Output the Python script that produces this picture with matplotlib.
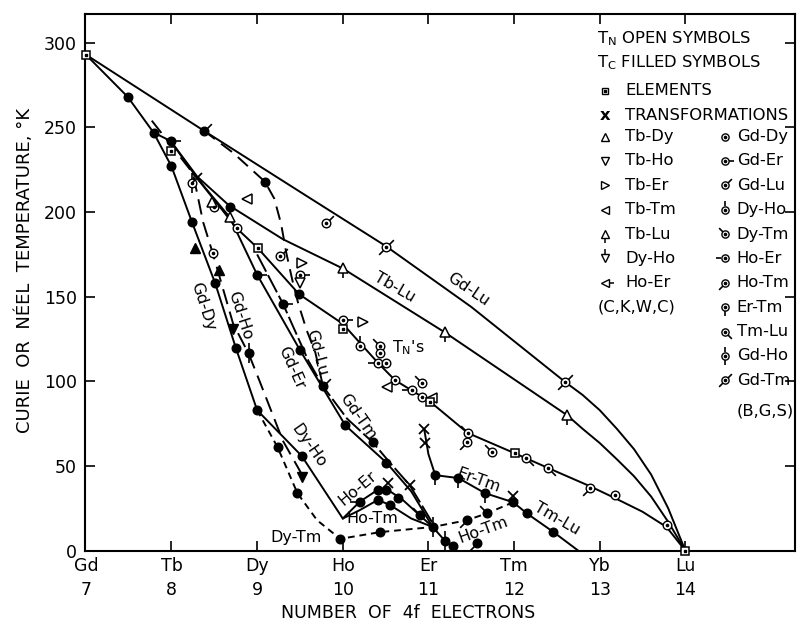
import matplotlib
matplotlib.use('Agg')
import numpy as np
import matplotlib.pyplot as plt
from matplotlib.path import Path

plt.rcParams['font.family'] = ['DejaVu Sans']

ELEMENTS = ['Gd', 'Tb', 'Dy', 'Ho', 'Er', 'Tm', 'Yb', 'Lu']
N_4F = [7, 8, 9, 10, 11, 12, 13, 14]

# ---- curves (number of 4f electrons, temperature K) ----
gd_lu_x = [7.0, 8.38, 9.5, 10.5, 11.5, 12.6, 12.8, 13.0, 13.2, 13.4, 13.6, 13.8, 14.0]
gd_lu_y = [293, 248, 212, 180, 144, 99.5, 92, 83, 72, 60, 45, 25, 0]

tb_lu_x = [7.99, 8.3, 8.67, 9.3, 10.0, 11.19, 12.62, 12.8, 13.0, 13.2, 13.4, 13.6, 13.8, 14.0]
tb_lu_y = [242, 221, 204, 184, 166.7, 129, 80, 72, 63.6, 54, 44, 32, 17, 0]

tn_x = [8.3, 8.76, 9.01, 9.49, 10.0, 10.41, 10.61, 11.02, 11.46, 12.01, 12.4, 12.89, 13.18, 13.5, 13.78, 14.0]
tn_y = [220, 190.5, 178.6, 151.5, 134, 111, 100.7, 88, 69.5, 57.5, 48.8, 38, 31, 23, 14, 0]

gd_stem_x = [7.0, 7.49, 7.79, 7.99, 8.3]
gd_stem_y = [293, 268, 247, 242, 220]

gd_dy_x = [7.79, 8.0, 8.24, 8.51, 8.75, 9.0]
gd_dy_y = [247, 227, 194, 158, 120, 83]

dy_ho_x = [9.0, 9.52, 10.0]
dy_ho_y = [83, 56, 19]

gd_ho_x = [7.77, 8.25, 8.37, 8.48, 8.72, 8.9, 9.03, 9.3, 9.54]
gd_ho_y = [254, 223, 194, 176, 134, 116.5, 100, 65, 43.5]

gd_lu_tc_x = [8.38, 8.72, 9.09, 9.2, 9.28, 9.34, 9.41, 9.48, 9.58, 9.68, 9.77]
gd_lu_tc_y = [248, 235, 218, 208, 193, 176, 160, 146, 130, 117, 97]

gd_er_x = [8.3, 8.68, 9.0, 9.5, 10.03, 10.51, 10.8, 11.05, 11.19, 11.29]
gd_er_y = [220, 197, 163, 118.5, 74, 52, 35, 14, 6, 3]

gd_tm_x = [9.0, 9.3, 9.6, 9.77, 10.05, 10.35, 10.55, 10.78, 11.1]
gd_tm_y = [175, 146, 112, 97, 78, 64, 52, 38.8, 12]

er_tm_x = [10.95, 11.0, 11.08, 11.35, 11.66, 11.99]
er_tm_y = [72, 57, 44.6, 42.9, 34, 28.6]

tm_lu_x = [11.99, 12.15, 12.46, 12.75]
tm_lu_y = [28.6, 22, 11, 0]

ho_er_x = [10.0, 10.2, 10.41, 10.51, 10.7, 11.05]
ho_er_y = [19, 29, 36, 36.5, 30, 14]

ho_tm_x = [10.0, 10.2, 10.41, 10.55, 10.8, 11.05]
ho_tm_y = [19, 24, 30, 27, 19, 14]

dy_tm_x = [9.0, 9.24, 9.47, 9.7, 9.97, 10.44, 11.05, 11.45, 11.68, 11.99]
dy_tm_y = [83, 61, 34, 18, 7, 11, 14, 18, 22, 28.6]

# ---- symbols ----
tc_x = [7.49, 7.79, 7.99, 8.0, 8.24, 8.51, 8.75, 9.0, 9.52, 8.38, 9.09, 8.68,
        9.0, 9.49, 9.5, 10.03, 10.51, 9.77, 10.35, 9.3, 8.9, 9.24, 9.47, 9.97,
        10.44, 10.2, 10.41, 10.51, 10.41, 10.55, 10.65, 11.05, 11.19, 11.29,
        11.08, 11.35, 11.66, 11.99, 12.15, 12.46, 11.45, 11.68, 11.57, 10.9]
tc_y = [268, 247, 242, 227, 194, 158, 120, 83, 56, 248, 218, 203,
        163, 151.5, 118.5, 74, 52, 97, 64, 146, 116.5, 61, 34, 7,
        11, 29, 36, 36, 30, 27, 31, 14, 6, 3,
        44.6, 42.9, 34, 28.6, 22, 11, 18, 22, 4.5, 21]
tc_sys = ['Gd-Dy', 'Gd-Dy', 'Gd-Er', 'Gd-Dy', 'Gd-Dy', 'Gd-Dy', 'Gd-Dy', 'Gd-Dy', 'Gd-Dy', 'Gd-Lu', 'Gd-Dy', 'Gd-Dy',
          'Gd-Er', 'Gd-Dy', 'Gd-Dy', 'Gd-Dy', 'Gd-Dy', 'Gd-Lu', 'Gd-Dy', 'Gd-Er', 'Gd-Ho', 'Gd-Dy', 'Gd-Dy', 'Gd-Dy',
          'Gd-Dy', 'Ho-Er', 'Gd-Dy', 'Gd-Dy', 'Gd-Dy', 'Gd-Dy', 'Gd-Dy', 'Gd-Ho', 'Gd-Ho', 'Gd-Dy',
          'Er-Tm', 'Er-Tm', 'Er-Tm', 'Gd-Dy', 'Gd-Dy', 'Gd-Dy', 'Ho-Tm', 'Dy-Tm', 'Ho-Tm', 'Dy-Tm']

tc_tri_x = [8.27, 8.55]
tc_tri_y = [179, 166]
tc_dtri_x = [8.72, 9.52]
tc_dtri_y = [131, 43.5]

tn_pt_x = [8.24, 8.5, 8.76, 8.48, 9.27, 9.5, 9.8, 10.5, 12.6, 10.0, 10.2, 10.43,
           10.43, 10.41, 10.51, 10.61, 10.81, 10.93, 10.93, 11.46, 11.45, 11.74,
           12.14, 12.4, 12.89, 13.18, 13.79]
tn_pt_y = [217, 203, 190.5, 176, 174, 163, 193.6, 179.6, 99.5, 136, 121, 121,
           116.5, 111, 110.7, 100.7, 94.8, 99, 90.8, 69.5, 64, 58,
           54.7, 48.8, 37, 33, 15]
tn_sys = ['Gd-Ho', 'Gd-Dy', 'Gd-Dy', 'Gd-Dy', 'Gd-Lu', 'Gd-Er', 'Gd-Lu', 'Gd-Tm', 'Gd-Tm', 'Gd-Er', 'Dy-Ho', 'Dy-Tm',
          'Gd-Dy', 'Ho-Er', 'Gd-Dy', 'Ho-Tm', 'Ho-Er', 'Dy-Tm', 'Gd-Dy', 'Dy-Tm', 'Ho-Tm', 'Dy-Tm',
          'Tm-Lu', 'Tm-Lu', 'Ho-Tm', 'Gd-Dy', 'Gd-Dy']

up_tri_x = [8.47, 8.68]
up_tri_y = [206, 197]
tb_lu_pt_x = [10.0, 11.19, 12.62]
tb_lu_pt_y = [166.7, 129, 80]
dn_tri_x = [9.5]
dn_tri_y = [158]
rt_tri_x = [9.52, 10.24]
rt_tri_y = [170, 135]
lt_tri_x = [8.88, 11.04, 10.52]
lt_tri_y = [207.6, 90, 96.7]

elem_x = [7.0, 8.0, 9.01, 10.0, 11.02, 12.01, 14.0]
elem_y = [293, 236, 178.6, 131, 88, 57.5, 0]

trans_x = [8.3, 10.78, 10.96, 10.95, 11.99, 10.53]
trans_y = [220, 38.8, 63.5, 72, 32.6, 40]

# tail directions (deg) that tag each alloy system on the circle symbols
TAILS = {'Gd-Dy': (), 'Gd-Er': (0,), 'Gd-Lu': (45,), 'Dy-Ho': (90,), 'Dy-Tm': (135,),
         'Ho-Er': (180,), 'Ho-Tm': (225,), 'Er-Tm': (270,), 'Tm-Lu': (315,),
         'Gd-Ho': (90, 270), 'Gd-Tm': (45, 225)}


def tail_path(angle, r0=0.4):
    a = np.deg2rad(angle)
    c, s = np.cos(a), np.sin(a)
    # two bare MOVETOs pin the marker scale so every tail has the same length
    verts = [(-1, -1), (1, 1), (r0 * c, r0 * s), (c, s)]
    codes = [Path.MOVETO, Path.MOVETO, Path.MOVETO, Path.LINETO]
    return Path(verts, codes)


def draw_tails(ax, xs, ys, systems, ms=15):
    for x, y, sysname in zip(xs, ys, systems):
        for ang in TAILS[sysname]:
            ax.plot([x], [y], marker=tail_path(ang), ms=ms, mew=1.2, color='black',
                    ls='none', zorder=4)


def dotted_circle(ax, xs, ys, ms=6.2):
    ax.plot(xs, ys, 'o', ms=ms, mfc='white', mec='black', mew=1.0, ls='none', zorder=5)
    ax.plot(xs, ys, 'o', ms=1.6, color='black', ls='none', zorder=6)


fig = plt.figure(figsize=(8.04, 6.28), dpi=100)
ax = fig.add_axes([0.1057, 0.1231, 0.8831, 0.8546])

lw = 1.4
solid = dict(color='black', lw=lw, solid_capstyle='round', solid_joinstyle='round')
for xs, ys in [(gd_lu_x, gd_lu_y), (tb_lu_x, tb_lu_y), (tn_x, tn_y),
               (gd_stem_x, gd_stem_y), (gd_dy_x, gd_dy_y), (dy_ho_x, dy_ho_y),
               (gd_er_x, gd_er_y), (er_tm_x, er_tm_y), (tm_lu_x, tm_lu_y),
               (ho_er_x, ho_er_y), (ho_tm_x, ho_tm_y)]:
    ax.plot(xs, ys, **solid)
ax.plot(gd_tm_x, gd_tm_y, color='black', lw=lw, dashes=(10, 2))
ax.plot(gd_ho_x, gd_ho_y, color='black', lw=lw, dashes=(8, 4))
ax.plot(gd_lu_tc_x, gd_lu_tc_y, color='black', lw=lw, dashes=(7, 4))
ax.plot(dy_tm_x, dy_tm_y, color='black', lw=lw, dashes=(3.5, 2.5))

# filled symbols (Curie points)
draw_tails(ax, tc_x, tc_y, tc_sys)
ax.plot(tc_x, tc_y, 'o', ms=6.2, color='black', ls='none', zorder=5)
ax.plot(tc_tri_x, tc_tri_y, '^', ms=7, color='black', ls='none', zorder=5)
ax.plot(tc_dtri_x, tc_dtri_y, 'v', ms=7, color='black', ls='none', zorder=5)

# open symbols (Neel points)
draw_tails(ax, tn_pt_x, tn_pt_y, tn_sys)
dotted_circle(ax, tn_pt_x, tn_pt_y)
ax.plot(tb_lu_pt_x, tb_lu_pt_y, marker=tail_path(270), ms=15, mew=1.2, color='black', ls='none', zorder=4)
for mk, xs, ys in [('^', up_tri_x, up_tri_y), ('^', tb_lu_pt_x, tb_lu_pt_y),
                   ('v', dn_tri_x, dn_tri_y), ('>', rt_tri_x, rt_tri_y),
                   ('<', lt_tri_x, lt_tri_y)]:
    ax.plot(xs, ys, mk, ms=7, mfc='white', mec='black', mew=1.1, ls='none', zorder=5)

ax.plot(elem_x, elem_y, 's', ms=6, mfc='white', mec='black', mew=1.1, ls='none', zorder=7, clip_on=False)
ax.plot(elem_x, elem_y, 's', ms=1.8, color='black', ls='none', zorder=8, clip_on=False)
ax.plot(trans_x, trans_y, 'x', ms=7, mew=1.3, color='black', ls='none', zorder=6)

# curve labels
lab = dict(fontsize=11.5, ha='center', va='center')
ax.text(11.46, 154, 'Gd-Lu', rotation=-34, **lab)
ax.text(10.61, 155.5, 'Tb-Lu', rotation=-30, **lab)
ax.text(10.76, 120, "T$_\\mathregular{N}$'s", **lab)
ax.text(8.37, 144, 'Gd-Dy', rotation=-72, **lab)
ax.text(8.8, 139, 'Gd-Ho', rotation=-72, **lab)
ax.text(9.4, 108, 'Gd-Er', rotation=-66, **lab)
ax.text(9.7, 117, 'Gd-Lu', rotation=-75, **lab)
ax.text(10.17, 79, 'Gd-Tm', rotation=-55, **lab)
ax.text(9.6, 62, 'Dy-Ho', rotation=-55, **lab)
ax.text(10.17, 37, 'Ho-Er', rotation=40, **lab)
ax.text(10.34, 19, 'Ho-Tm', **lab)
ax.text(9.46, 7.5, 'Dy-Tm', **lab)
ax.text(11.58, 41.5, 'Er-Tm', rotation=-20, **lab)
ax.text(12.5, 19, 'Tm-Lu', rotation=-30, **lab)
ax.text(11.64, 12, 'Ho-Tm', rotation=20, **lab)

# key
fs = 11.8
ax.text(12.97, 302.2, 'T$_\\mathregular{N}$ OPEN SYMBOLS', fontsize=fs, va='center')
ax.text(12.97, 288, 'T$_\\mathregular{C}$ FILLED SYMBOLS', fontsize=fs, va='center')
ax.plot([13.06], [271.6], 's', ms=5, mfc='white', mec='black', mew=1)
ax.plot([13.06], [271.6], 's', ms=1.5, color='black')
ax.text(13.3, 271.6, 'ELEMENTS', fontsize=fs, va='center')
ax.text(13.06, 256.8, 'x', fontsize=fs, va='center', ha='center', fontweight='bold')
ax.text(13.3, 256.8, 'TRANSFORMATIONS', fontsize=fs, va='center')

left_key = [('^', None, 'Tb-Dy'), ('v', None, 'Tb-Ho'), ('>', None, 'Tb-Er'),
            ('<', None, 'Tb-Tm'), ('^', 270, 'Tb-Lu'), ('v', 90, 'Dy-Ho'),
            ('<', 0, 'Ho-Er')]
right_key = ['Gd-Dy', 'Gd-Er', 'Gd-Lu', 'Dy-Ho', 'Dy-Tm', 'Ho-Er', 'Ho-Tm',
             'Er-Tm', 'Tm-Lu', 'Gd-Ho', 'Gd-Tm']
row0, step = 244.6, 14.4
for i, (mk, ang, name) in enumerate(left_key):
    y = row0 - i * step
    if ang is not None:
        ax.plot([13.06], [y], marker=tail_path(ang), ms=13, mew=1.1, color='black')
    ax.plot([13.06], [y], mk, ms=5.5, mfc='white', mec='black', mew=1)
    ax.text(13.3, y, name, fontsize=fs, va='center')
ax.text(12.97, row0 - 7 * step, '(C,K,W,C)', fontsize=fs, va='center')
for i, name in enumerate(right_key):
    y = row0 - i * step
    draw_tails(ax, [14.46], [y], [name], ms=13)
    dotted_circle(ax, [14.46], [y], ms=5.2)
    ax.text(14.6, y, name, fontsize=fs, va='center')
ax.text(14.6, 82.5, '(B,G,S)', fontsize=fs, va='center')

# axes
ax.set_xlim(6.99, 15.28)
ax.set_ylim(0, 317)
ax.set_xticks(N_4F[1:])
ax.set_xticklabels([])
ax.set_yticks([0, 50, 100, 150, 200, 250, 300])
ax.set_yticklabels(['0', '50', '100', '150', '200', '250', '300'], fontsize=12.5)
ax.tick_params(direction='in', length=7, width=1.2, top=True, right=True, pad=6)
for s in ax.spines.values():
    s.set_linewidth(1.5)

for el, n in zip(ELEMENTS, N_4F):
    ax.text(n, -4, el, fontsize=12.5, ha='center', va='top', clip_on=False)
    ax.text(n, -18, str(n), fontsize=12.5, ha='center', va='top', clip_on=False)

fig.text(0.508, 0.01, 'NUMBER  OF  4f  ELECTRONS', fontsize=12.5, ha='center', va='bottom')
fig.text(0.031, 0.57, "CURIE  OR  NÉEL  TEMPERATURE, °K", fontsize=13,
         rotation=90, ha='center', va='center')

fig.savefig('out.png', dpi=100)
